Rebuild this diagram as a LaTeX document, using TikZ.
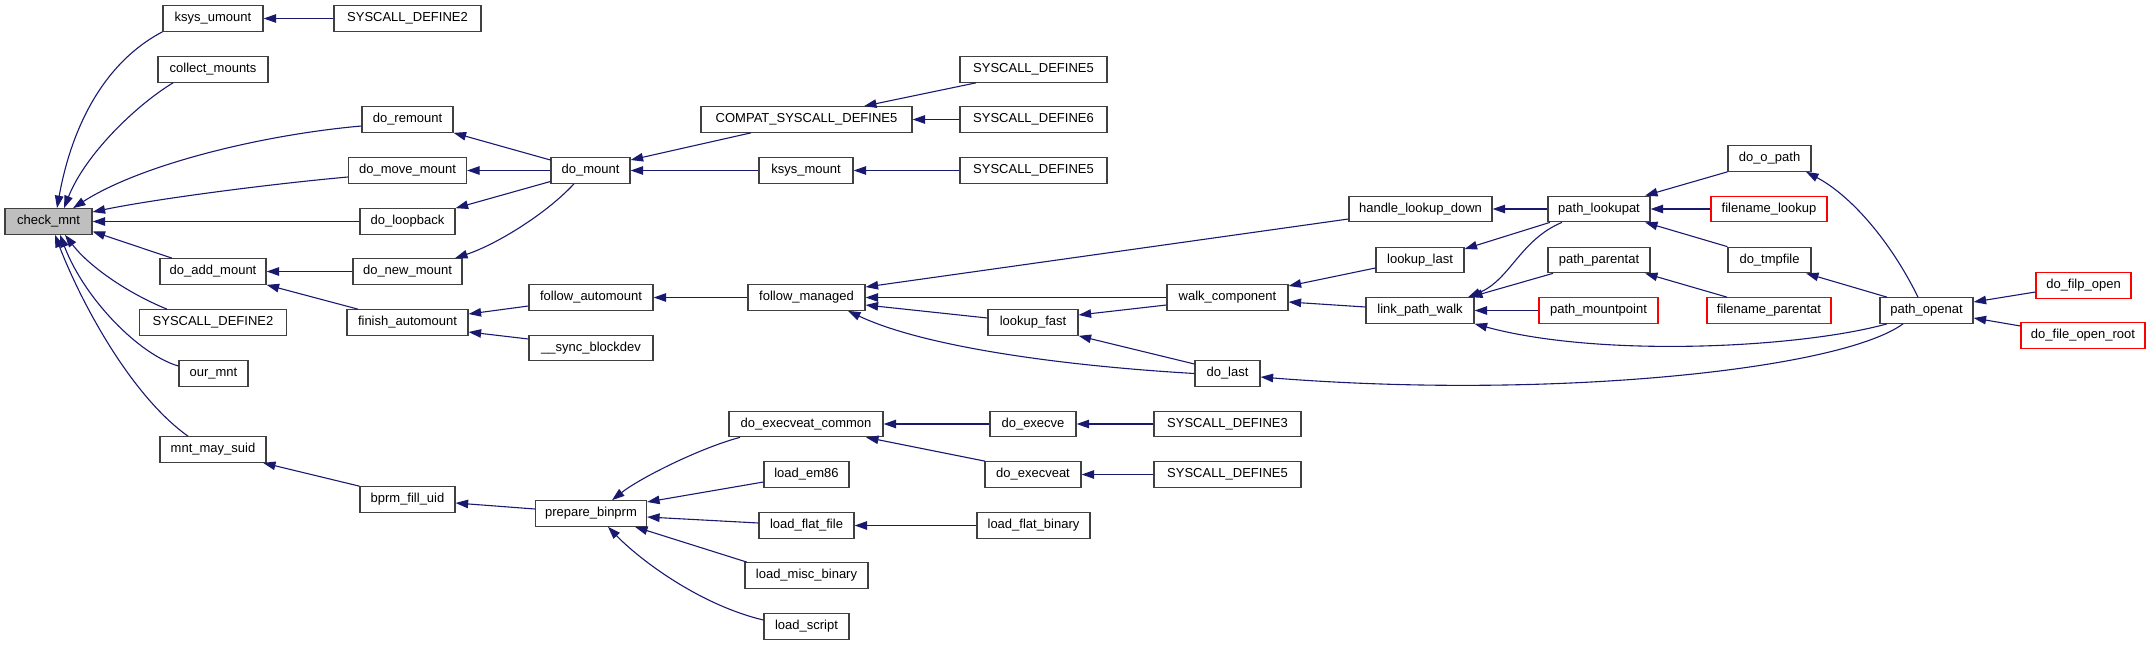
\documentclass[tikz,border=0pt]{standalone}
\usepackage{fontspec}
\setmainfont{Liberation Sans}
\usetikzlibrary{arrows.meta}
\definecolor{midnight}{HTML}{191970}
\definecolor{rootgray}{HTML}{BFBFBF}
\definecolor{boxline}{HTML}{404040}
\tikzset{
  fn/.style={draw=boxline, fill=white, line width=1.2pt, minimum height=25.5pt, inner sep=0pt, font=\fontsize{13}{15}\selectfont},
  trunc/.style={fn, draw=red},
  callarrow/.style={draw=midnight, line width=1.1pt, -{Triangle[length=12.5pt,width=8.5pt]}}
}
\begin{document}
\begin{tikzpicture}[x=1pt,y=-1pt]
\path[use as bounding box] (0,0) rectangle (2151,645);
% column 0
\node[fn, fill=rootgray, minimum width=87pt] (check_mnt) at (48.5,221.5) {check\_mnt};
% column 1
\node[fn, minimum width=100pt] (ksys_umount) at (213,18.5) {ksys\_umount};
\node[fn, minimum width=110pt] (collect_mounts) at (213,69.5) {collect\_mounts};
\node[fn, minimum width=106pt] (do_add_mount) at (213,271.5) {do\_add\_mount};
\node[fn, minimum width=147pt] (sd2b) at (213,322.5) {SYSCALL\_DEFINE2};
\node[fn, minimum width=69pt] (our_mnt) at (213.5,373.5) {our\_mnt};
\node[fn, minimum width=106pt] (mnt_may_suid) at (213,449.5) {mnt\_may\_suid};
% column 2
\node[fn, minimum width=147pt] (sd2a) at (407.5,18.5) {SYSCALL\_DEFINE2};
\node[fn, minimum width=91pt] (do_remount) at (407.5,119.5) {do\_remount};
\node[fn, minimum width=118pt] (do_move_mount) at (407.5,170.5) {do\_move\_mount};
\node[fn, minimum width=95pt] (do_loopback) at (407.5,221.5) {do\_loopback};
\node[fn, minimum width=109pt] (do_new_mount) at (407.5,271.5) {do\_new\_mount};
\node[fn, minimum width=121pt] (finish_automount) at (407.5,322.5) {finish\_automount};
\node[fn, minimum width=95pt] (bprm_fill_uid) at (407.5,499.5) {bprm\_fill\_uid};
% column 3
\node[fn, minimum width=79pt] (do_mount) at (590.5,170.5) {do\_mount};
\node[fn, minimum width=124pt] (follow_automount) at (591,297.5) {follow\_automount};
\node[fn, minimum width=124pt] (sync_blockdev) at (591,348) {\_\_sync\_blockdev};
\node[fn, minimum width=111pt] (prepare_binprm) at (591,513.5) {prepare\_binprm};
% column 4
\node[fn, minimum width=211pt] (compat) at (806.5,119.5) {COMPAT\_SYSCALL\_DEFINE5};
\node[fn, minimum width=94pt] (ksys_mount) at (806,170.5) {ksys\_mount};
\node[fn, minimum width=117pt] (follow_managed) at (806.5,297.5) {follow\_managed};
\node[fn, minimum width=154pt] (do_execveat_common) at (806,424) {do\_execveat\_common};
\node[fn, minimum width=85pt] (load_em86) at (806.5,474.5) {load\_em86};
\node[fn, minimum width=95pt] (load_flat_file) at (806.5,525.5) {load\_flat\_file};
\node[fn, minimum width=123pt] (load_misc_binary) at (806.5,575.5) {load\_misc\_binary};
\node[fn, minimum width=85pt] (load_script) at (806.5,626.5) {load\_script};
% column 5
\node[fn, minimum width=147pt] (sd5a) at (1033.5,69.5) {SYSCALL\_DEFINE5};
\node[fn, minimum width=147pt] (sd6) at (1033.5,119.5) {SYSCALL\_DEFINE6};
\node[fn, minimum width=147pt] (sd5b) at (1033.5,170.5) {SYSCALL\_DEFINE5};
\node[fn, minimum width=90pt] (lookup_fast) at (1033,322.5) {lookup\_fast};
\node[fn, minimum width=86pt] (do_execve) at (1033,424) {do\_execve};
\node[fn, minimum width=96pt] (do_execveat) at (1033,474.5) {do\_execveat};
\node[fn, minimum width=113pt] (load_flat_binary) at (1033.5,525.5) {load\_flat\_binary};
% column 6
\node[fn, minimum width=121pt] (walk_component) at (1227.5,297.5) {walk\_component};
\node[fn, minimum width=65pt] (do_last) at (1227.5,373.5) {do\_last};
\node[fn, minimum width=147pt] (sd3) at (1227.5,424) {SYSCALL\_DEFINE3};
\node[fn, minimum width=147pt] (sd5c) at (1227.5,474.5) {SYSCALL\_DEFINE5};
% column 7
\node[fn, minimum width=143pt] (handle_lookup_down) at (1420.5,209) {handle\_lookup\_down};
\node[fn, minimum width=88pt] (lookup_last) at (1420,260) {lookup\_last};
\node[fn, minimum width=108pt] (link_path_walk) at (1420,310.5) {link\_path\_walk};
% column 8
\node[fn, minimum width=102pt] (path_lookupat) at (1599,209) {path\_lookupat};
\node[fn, minimum width=102pt] (path_parentat) at (1599,260) {path\_parentat};
\node[trunc, minimum width=119pt] (path_mountpoint) at (1598.5,310.5) {path\_mountpoint};
% column 9
\node[fn, minimum width=83pt] (do_o_path) at (1769.5,158.5) {do\_o\_path};
\node[trunc, minimum width=116pt] (filename_lookup) at (1769,209) {filename\_lookup};
\node[fn, minimum width=83pt] (do_tmpfile) at (1769.5,260) {do\_tmpfile};
\node[trunc, minimum width=124pt] (filename_parentat) at (1769,310.5) {filename\_parentat};
% column 10
\node[fn, minimum width=93pt] (path_openat) at (1926.5,310.5) {path\_openat};
% column 11
\node[trunc, minimum width=95pt] (do_filp_open) at (2083.5,285.5) {do\_filp\_open};
\node[trunc, minimum width=124pt] (do_file_open_root) at (2083,335.5) {do\_file\_open\_root};

% edges into check_mnt
\draw[callarrow] (ksys_umount.south west) .. controls (105,62) and (72,125) .. ([xshift=8.5pt]check_mnt.north);
\draw[callarrow] ([xshift=-40pt]collect_mounts.south) .. controls (135,106) and (85,155) .. ([xshift=15.5pt]check_mnt.north);
\draw[callarrow] ([yshift=-6.5pt]do_remount.west) .. controls (260,135) and (140,165) .. ([xshift=24.5pt]check_mnt.north);
\draw[callarrow] ([yshift=-6.5pt]do_move_mount.west) .. controls (260,185) and (150,200) .. ([yshift=9.5pt]check_mnt.east);
\draw[callarrow] (do_loopback) -- (check_mnt);
\draw[callarrow] ([xshift=-41pt]do_add_mount.north) -- ([yshift=-10pt]check_mnt.east);
\draw[callarrow] ([xshift=-46pt]sd2b.north) .. controls (125,292) and (88,265) .. ([xshift=16.5pt]check_mnt.south);
\draw[callarrow] ([yshift=7.5pt]our_mnt.west) .. controls (140,355) and (85,300) .. ([xshift=11.5pt]check_mnt.south);
\draw[callarrow] ([xshift=-25pt]mnt_may_suid.north) .. controls (130,395) and (80,300) .. ([xshift=6.5pt]check_mnt.south);
% mount family
\draw[callarrow] (sd2a) -- (ksys_umount);
\draw[callarrow] ([yshift=10.5pt]do_mount.west) -- (do_remount.south east);
\draw[callarrow] (do_mount) -- (do_move_mount);
\draw[callarrow] ([yshift=-11pt]do_mount.west) -- (do_loopback.north east);
\draw[callarrow] ([xshift=-16.5pt]do_mount.south) .. controls (545,215) and (495,245) .. ([xshift=47.5pt]do_new_mount.north);
\draw[callarrow] (do_new_mount) -- (do_add_mount);
\draw[callarrow] ([xshift=-49.5pt]finish_automount.north) -- (do_add_mount.south east);
\draw[callarrow] ([xshift=-55.5pt]compat.south) -- ([yshift=10.5pt]do_mount.east);
\draw[callarrow] (ksys_mount) -- (do_mount);
\draw[callarrow] ([xshift=-57.5pt]sd5a.south) -- ([xshift=57.5pt]compat.north);
\draw[callarrow] (sd6) -- (compat);
\draw[callarrow] (sd5b) -- (ksys_mount);
\draw[callarrow] ([yshift=-8.5pt]follow_automount.west) -- ([yshift=8.5pt]finish_automount.east);
\draw[callarrow] ([yshift=9pt]sync_blockdev.west) -- ([yshift=-9.5pt]finish_automount.east);
\draw[callarrow] (follow_managed) -- (follow_automount);
% path walk family
\draw[callarrow] ([yshift=-10pt]handle_lookup_down.west) -- ([yshift=10.5pt]follow_managed.east);
\draw[callarrow] (walk_component) -- (follow_managed);
\draw[callarrow] ([yshift=4.5pt]lookup_fast.west) -- ([yshift=-7.5pt]follow_managed.east);
\draw[callarrow] (do_last.west) .. controls (1050,365) and (920,345) .. ([xshift=41.5pt]follow_managed.south);
\draw[callarrow] (path_lookupat) -- (handle_lookup_down);
\draw[callarrow] ([yshift=-8pt]lookup_last.west) -- ([yshift=11.5pt]walk_component.east);
\draw[callarrow] ([yshift=3.5pt]link_path_walk.west) -- ([yshift=-4.5pt]walk_component.east);
\draw[callarrow] ([yshift=-7.5pt]walk_component.west) -- ([yshift=7.5pt]lookup_fast.east);
\draw[callarrow] ([yshift=9.5pt]do_last.west) -- (lookup_fast.south east);
\draw[callarrow] ([xshift=-49pt]path_lookupat.south) -- ([yshift=11pt]lookup_last.east);
\draw[callarrow] ([xshift=-37pt]path_lookupat.south) .. controls (1520,240) and (1510,280) .. ([xshift=48pt]link_path_walk.north);
\draw[callarrow] ([xshift=-46pt]path_parentat.south) -- ([xshift=50pt]link_path_walk.north);
\draw[callarrow] (path_mountpoint) -- (link_path_walk);
\draw[callarrow] ([xshift=-39.5pt]path_openat.south) .. controls (1800,348) and (1600,358) .. (link_path_walk.south east);
\draw[callarrow] (do_o_path.south west) -- ([xshift=46pt]path_lookupat.north);
\draw[callarrow] (filename_lookup) -- (path_lookupat);
\draw[callarrow] (do_tmpfile.north west) -- ([xshift=46pt]path_lookupat.south);
\draw[callarrow] ([xshift=-42pt]filename_parentat.north) -- ([xshift=46pt]path_parentat.south);
\draw[callarrow] ([xshift=-8.5pt]path_openat.north) .. controls (1890,240) and (1850,195) .. ([xshift=36.5pt]do_o_path.south);
\draw[callarrow] ([xshift=-39.5pt]path_openat.north) -- ([xshift=36.5pt]do_tmpfile.south);
\draw[callarrow] ([yshift=-6.5pt]do_filp_open.west) -- ([yshift=8.5pt]path_openat.east);
\draw[callarrow] ([yshift=9.5pt]do_file_open_root.west) -- ([yshift=-7.5pt]path_openat.east);
\draw[callarrow] ([xshift=-23.5pt]path_openat.south) .. controls (1840,370) and (1550,400) .. ([yshift=-3.5pt]do_last.east);
% exec family
\draw[callarrow] (bprm_fill_uid.north west) -- ([xshift=50pt]mnt_may_suid.south);
\draw[callarrow] ([yshift=4.5pt]prepare_binprm.west) -- ([yshift=-3.5pt]bprm_fill_uid.east);
\draw[callarrow] ([xshift=-66pt]do_execveat_common.south) .. controls (700,448) and (640,478) .. ([xshift=21pt]prepare_binprm.north);
\draw[callarrow] ([yshift=-7.5pt]load_em86.west) -- ([yshift=11.5pt]prepare_binprm.east);
\draw[callarrow] ([yshift=2.5pt]load_flat_file.west) -- ([yshift=-3.5pt]prepare_binprm.east);
\draw[callarrow] ([xshift=-59.5pt]load_misc_binary.north) -- ([xshift=44pt]prepare_binprm.south);
\draw[callarrow] ([yshift=6.5pt]load_script.west) .. controls (700,605) and (640,560) .. ([xshift=17pt]prepare_binprm.south);
\draw[callarrow] (do_execve) -- (do_execveat_common);
\draw[callarrow] ([xshift=-48pt]do_execveat.north) -- ([xshift=60pt]do_execveat_common.south);
\draw[callarrow] (sd3) -- (do_execve);
\draw[callarrow] (sd5c) -- (do_execveat);
\draw[callarrow] (load_flat_binary) -- (load_flat_file);
\end{tikzpicture}
\end{document}
